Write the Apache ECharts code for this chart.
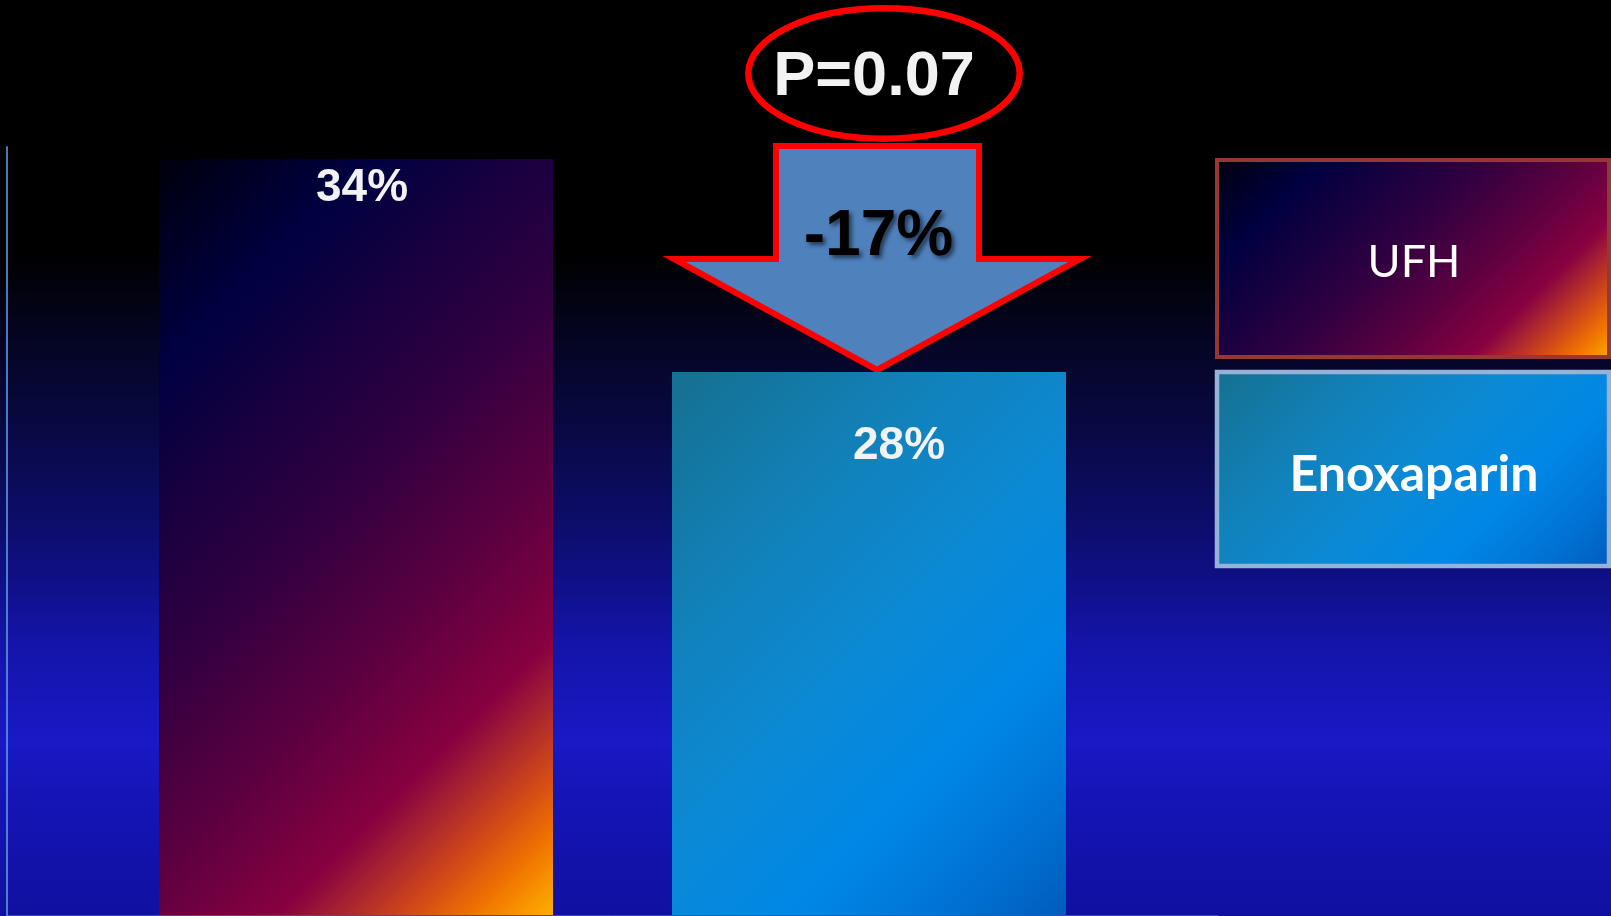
<!DOCTYPE html>
<html>
<head>
<meta charset="utf-8">
<title>UFH vs Enoxaparin</title>
<script src="https://cdn.jsdelivr.net/npm/echarts@6/dist/echarts.min.js"></script>
<style>
  html, body { margin: 0; padding: 0; background: #000; }
  #chart { width: 1611px; height: 916px; }
</style>
</head>
<body>
<div id="chart"></div>
<script>
// ---- data ----
const categories = [''];
const seriesNames = ['UFH', 'Enoxaparin'];
const ufhValues = [34];
const enoxaparinValues = [28];
const pValueText = 'P=0.07';
const changeText = '-17%';

const G = echarts.graphic.LinearGradient;

// diagonal "fire" fill used for UFH
const fireStops = [
  { offset: 0.00, color: '#00000c' },
  { offset: 0.18, color: '#000040' },
  { offset: 0.45, color: '#300040' },
  { offset: 0.62, color: '#5c0040' },
  { offset: 0.76, color: '#880040' },
  { offset: 0.80, color: '#a01c34' },
  { offset: 0.87, color: '#d04818' },
  { offset: 0.93, color: '#f07400' },
  { offset: 1.00, color: '#ffb000' }
];
// diagonal ocean-blue fill used for Enoxaparin
const oceanStops = [
  { offset: 0.00, color: '#167090' },
  { offset: 0.30, color: '#1182bc' },
  { offset: 0.50, color: '#0c89d4' },
  { offset: 0.70, color: '#0088e6' },
  { offset: 0.85, color: '#0074d6' },
  { offset: 1.00, color: '#005cbc' }
];

const bgGradient = new G(0, 0, 0, 1, [
  { offset: 0.00, color: '#000000' },
  { offset: 0.275, color: '#000000' },
  { offset: 0.36, color: '#04041f' },
  { offset: 0.45, color: '#08083d' },
  { offset: 0.575, color: '#0d0d6c' },
  { offset: 0.64, color: '#10108a' },
  { offset: 0.70, color: '#1414a8' },
  { offset: 0.81, color: '#1919c6' },
  { offset: 0.87, color: '#1515b6' },
  { offset: 1.00, color: '#1010a0' }
]);

const valueLabel = (dist, dx) => ({
  show: true,
  position: 'insideTop',
  distance: dist,
  offset: [dx, 0],
  formatter: '{c}%',
  color: '#f2f2f2',
  fontFamily: '"Liberation Sans", Arial, sans-serif',
  fontWeight: 'bold',
  fontSize: 46
});

const chart = echarts.init(document.getElementById('chart'), null, { renderer: 'canvas' });

const option = {
  backgroundColor: 'transparent',
  animation: false,
  grid: { left: 7, right: 393, top: 147, bottom: 1, containLabel: false },
  xAxis: {
    type: 'category',
    data: categories,
    axisLine: { show: true, lineStyle: { color: 'rgba(120,140,235,0.45)', width: 1 } },
    axisTick: { show: false },
    axisLabel: { show: false },
    splitLine: { show: false }
  },
  yAxis: {
    type: 'value',
    min: 12.7,
    max: 34.34,
    axisLine: { show: true, onZero: false, lineStyle: { color: 'rgba(96,150,225,0.8)', width: 2 } },
    axisTick: { show: false },
    axisLabel: { show: false },
    splitLine: { show: false }
  },
  series: [
    {
      name: seriesNames[0],
      type: 'bar',
      data: ufhValues,
      barWidth: 394,
      barGap: '30.2%',
      clip: true,
      z: 5,
      itemStyle: { color: new G(0, 0, 1.461, 0.760, fireStops) },
      label: valueLabel(6, 6)
    },
    {
      name: seriesNames[1],
      type: 'bar',
      data: enoxaparinValues,
      barWidth: 394,
      barGap: '30.2%',
      clip: true,
      z: 5,
      itemStyle: { color: new G(0, 0, 1.189, 0.863, oceanStops) },
      label: valueLabel(51, 30)
    }
  ],
  graphic: [
    // backdrop
    {
      type: 'rect', z: -10, silent: true,
      shape: { x: 0, y: 0, width: 1611, height: 916 },
      style: { fill: bgGradient }
    },
    // downward block arrow
    {
      type: 'polygon', z: 1,
      shape: {
        points: [[776, 146], [979, 146], [979, 259], [1080, 259], [877, 370], [674, 259], [776, 259]]
      },
      style: { fill: '#4f81bd', stroke: '#ff0000', lineWidth: 6, lineJoin: 'miter' }
    },
    {
      type: 'text', z: 6,
      style: {
        x: 878.5, y: 237, text: changeText, align: 'center', verticalAlign: 'middle',
        fill: '#000000',
        font: 'bold 64px "Liberation Sans", Arial, sans-serif',
        textShadowColor: 'rgba(0,0,0,0.55)', textShadowBlur: 4,
        textShadowOffsetX: 3, textShadowOffsetY: 3
      }
    },
    // p-value ellipse
    {
      type: 'ellipse', z: 6,
      shape: { cx: 884, cy: 73.5, rx: 135.7, ry: 65.2 },
      style: { fill: '#000000', stroke: '#ff0000', lineWidth: 6.5 }
    },
    {
      type: 'text', z: 7,
      style: {
        x: 874, y: 78, text: pValueText, align: 'center', verticalAlign: 'middle',
        fill: '#f2f2f2',
        font: 'bold 63px "Liberation Sans", Arial, sans-serif'
      }
    },
    // legend: UFH
    {
      type: 'rect', z: 6,
      shape: { x: 1217, y: 160, width: 392, height: 197 },
      style: { fill: new G(0, 0, 0.751, 1.495, fireStops), stroke: '#953735', lineWidth: 4 }
    },
    {
      type: 'text', z: 7,
      style: {
        x: 1414, y: 262, text: seriesNames[0], align: 'center', verticalAlign: 'middle',
        fill: '#ffffff',
        font: '45px Lato, "Open Sans", sans-serif'
      }
    },
    // legend: Enoxaparin
    {
      type: 'rect', z: 6,
      shape: { x: 1217, y: 372, width: 392, height: 194 },
      style: { fill: new G(0, 0, 0.747, 1.51, oceanStops), stroke: '#95b3d7', lineWidth: 4.5 }
    },
    {
      type: 'text', z: 7,
      style: {
        x: 1414, y: 475, text: seriesNames[1], align: 'center', verticalAlign: 'middle',
        fill: '#ffffff',
        font: 'bold 50px Lato, "Open Sans", sans-serif'
      }
    }
  ]
};

chart.setOption(option);
</script>
</body>
</html>
